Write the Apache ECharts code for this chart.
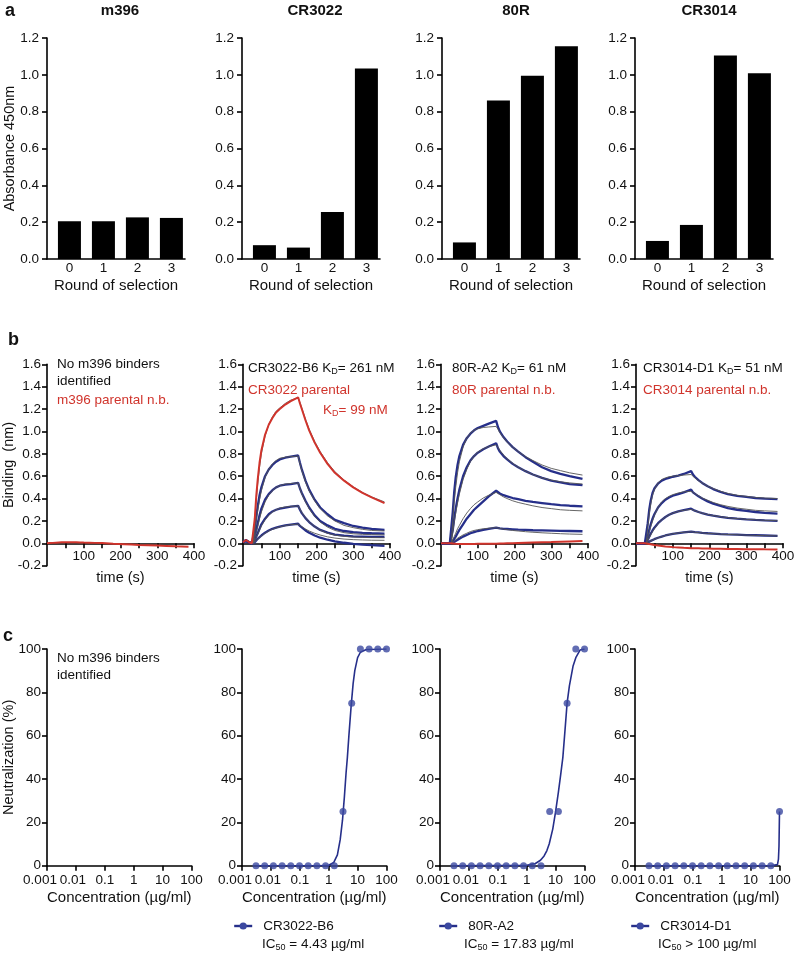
<!DOCTYPE html>
<html><head><meta charset="utf-8">
<script src="https://cdn.jsdelivr.net/npm/echarts@6/dist/echarts.min.js"></script>
<style>html,body{margin:0;padding:0;background:#fff}#c{width:800px;height:957px}</style>
</head><body><div id="c"></div>
<script>
// ================= DATA =================
// Panel a : ELISA
const roundOfSelection = [0, 1, 2, 3];
const elisaTitles = ['m396', 'CR3022', '80R', 'CR3014'];
const elisaM396   = [0.205, 0.205, 0.226, 0.223];
const elisaCR3022 = [0.075, 0.062, 0.255, 1.035];
const elisa80R    = [0.090, 0.860, 0.995, 1.155];
const elisaCR3014 = [0.098, 0.185, 1.105, 1.008];
const absorbanceTicks = ['0.0', '0.2', '0.4', '0.6', '0.8', '1.0', '1.2'];

// Panel b : BLI sensorgrams (time in s, binding in nm)
const bliTime = [0, 8, 16, 24, 28, 32, 36, 40, 45, 50, 60, 70, 80, 90, 100, 115, 130, 150, 155, 160, 170, 180, 195, 210, 230, 250, 275, 300, 325, 350, 385];
const bindingTicks = ['-0.2', '0.0', '0.2', '0.4', '0.6', '0.8', '1.0', '1.2', '1.4', '1.6'];
const timeLabelValues = [100, 200, 300, 400];
const timeTickValues = [50, 100, 150, 200, 250, 300, 350, 400];

const bliM396Parental = [0, 0.002, 0.004, 0.006, 0.007, 0.008, 0.009, 0.01, 0.01, 0.01, 0.01, 0.01, 0.009, 0.008, 0.007, 0.006, 0.004, 0.002, 0.001, 0, -0.002, -0.004, -0.006, -0.008, -0.011, -0.014, -0.017, -0.02, -0.023, -0.026, -0.03];

const bliCR3022Parental    = [0.01, 0.03, 0.012, 0, 0, 0.22, 0.42, 0.57, 0.72, 0.83, 0.97, 1.06, 1.12, 1.17, 1.2, 1.24, 1.27, 1.305, 1.25, 1.2, 1.1, 1.01, 0.9, 0.81, 0.71, 0.63, 0.56, 0.5, 0.45, 0.41, 0.36];
const bliCR3022ParentalFit = [null, null, null, null, 0, 0.2, 0.38, 0.53, 0.68, 0.8, 0.96, 1.06, 1.13, 1.18, 1.21, 1.25, 1.28, 1.3, 1.26, 1.21, 1.11, 1.02, 0.91, 0.82, 0.72, 0.64, 0.565, 0.505, 0.455, 0.415, 0.37];
const bliCR3022B6_1 = [0.01, 0.03, 0.012, 0, 0, 0.12, 0.24, 0.33, 0.43, 0.5, 0.6, 0.66, 0.7, 0.73, 0.75, 0.765, 0.775, 0.785, 0.72, 0.66, 0.56, 0.48, 0.39, 0.32, 0.26, 0.21, 0.18, 0.155, 0.14, 0.13, 0.12];
const bliCR3022B6_2 = [0.01, 0.025, 0.01, 0, 0, 0.06, 0.12, 0.18, 0.25, 0.31, 0.39, 0.44, 0.475, 0.5, 0.515, 0.525, 0.53, 0.54, 0.49, 0.45, 0.38, 0.32, 0.25, 0.2, 0.16, 0.13, 0.11, 0.1, 0.094, 0.09, 0.087];
const bliCR3022B6_3 = [0.01, 0.02, 0.008, 0, 0, 0.03, 0.06, 0.09, 0.13, 0.17, 0.22, 0.26, 0.285, 0.3, 0.31, 0.32, 0.328, 0.335, 0.3, 0.27, 0.225, 0.19, 0.15, 0.12, 0.095, 0.078, 0.068, 0.062, 0.06, 0.058, 0.057];
const bliCR3022B6_4 = [0.01, 0.02, 0.008, 0, 0, 0.01, 0.025, 0.04, 0.055, 0.07, 0.095, 0.115, 0.13, 0.14, 0.15, 0.16, 0.168, 0.175, 0.155, 0.14, 0.115, 0.095, 0.07, 0.05, 0.032, 0.018, 0.005, -0.005, -0.012, -0.017, -0.022];
const bliCR3022B6Fit_1 = [null, null, null, null, 0, 0.1, 0.2, 0.29, 0.39, 0.47, 0.59, 0.66, 0.71, 0.74, 0.76, 0.77, 0.775, 0.78, 0.71, 0.65, 0.55, 0.47, 0.38, 0.31, 0.245, 0.2, 0.16, 0.14, 0.125, 0.115, 0.11];
const bliCR3022B6Fit_2 = [null, null, null, null, 0, 0.05, 0.1, 0.15, 0.22, 0.28, 0.37, 0.43, 0.47, 0.5, 0.515, 0.53, 0.535, 0.54, 0.49, 0.44, 0.37, 0.31, 0.24, 0.19, 0.145, 0.115, 0.095, 0.085, 0.08, 0.078, 0.075];
const bliCR3022B6Fit_3 = [null, null, null, null, 0, 0.025, 0.05, 0.08, 0.12, 0.155, 0.21, 0.25, 0.28, 0.3, 0.315, 0.325, 0.33, 0.335, 0.305, 0.275, 0.23, 0.19, 0.15, 0.118, 0.09, 0.073, 0.062, 0.056, 0.053, 0.051, 0.05];
const bliCR3022B6Fit_4 = [null, null, null, null, 0, 0.012, 0.025, 0.038, 0.052, 0.066, 0.09, 0.11, 0.125, 0.137, 0.147, 0.158, 0.166, 0.172, 0.16, 0.148, 0.128, 0.11, 0.09, 0.074, 0.058, 0.047, 0.038, 0.033, 0.03, 0.028, 0.027];

const bli80RParental = [0, 0, 0, 0, 0, -0.002, -0.003, -0.004, -0.004, -0.005, -0.005, -0.005, -0.005, -0.005, -0.004, -0.004, -0.003, -0.003, -0.002, -0.002, -0.001, 0, 0.001, 0.003, 0.005, 0.007, 0.009, 0.011, 0.014, 0.017, 0.02];
const bli80RA2_1 = [0, 0, 0, 0, 0, 0.28, 0.46, 0.59, 0.7, 0.78, 0.88, 0.94, 0.98, 1.01, 1.03, 1.05, 1.07, 1.095, 1.04, 1.0, 0.95, 0.91, 0.86, 0.82, 0.77, 0.73, 0.68, 0.645, 0.62, 0.6, 0.575];
const bli80RA2_2 = [0, 0, 0, 0, 0, 0.12, 0.22, 0.31, 0.4, 0.48, 0.6, 0.68, 0.74, 0.78, 0.81, 0.84, 0.865, 0.895, 0.85, 0.82, 0.78, 0.75, 0.71, 0.68, 0.645, 0.615, 0.585, 0.56, 0.545, 0.53, 0.52];
const bli80RA2_3 = [0, 0, 0, 0, 0, 0.02, 0.04, 0.06, 0.09, 0.12, 0.17, 0.22, 0.26, 0.3, 0.33, 0.375, 0.42, 0.47, 0.455, 0.445, 0.43, 0.42, 0.405, 0.395, 0.38, 0.37, 0.36, 0.35, 0.342, 0.336, 0.33];
const bli80RA2_4 = [0, 0, 0, 0, 0, 0.005, 0.012, 0.02, 0.03, 0.04, 0.06, 0.075, 0.09, 0.1, 0.11, 0.12, 0.13, 0.14, 0.135, 0.133, 0.13, 0.128, 0.125, 0.122, 0.12, 0.117, 0.115, 0.113, 0.111, 0.11, 0.108];
const bli80RA2Fit_1 = [null, null, null, null, 0, 0.2, 0.37, 0.5, 0.63, 0.73, 0.86, 0.94, 0.985, 1.01, 1.025, 1.035, 1.04, 1.045, 1.02, 0.99, 0.945, 0.905, 0.86, 0.82, 0.775, 0.74, 0.7, 0.67, 0.65, 0.63, 0.61];
const bli80RA2Fit_2 = [null, null, null, null, 0, 0.1, 0.19, 0.27, 0.36, 0.44, 0.57, 0.66, 0.73, 0.78, 0.815, 0.845, 0.865, 0.88, 0.86, 0.83, 0.79, 0.755, 0.715, 0.68, 0.645, 0.615, 0.585, 0.565, 0.55, 0.54, 0.53];
const bli80RA2Fit_3 = [null, null, null, null, 0, 0.03, 0.06, 0.09, 0.13, 0.16, 0.22, 0.27, 0.31, 0.345, 0.37, 0.405, 0.43, 0.455, 0.445, 0.435, 0.415, 0.4, 0.38, 0.365, 0.35, 0.335, 0.32, 0.31, 0.3, 0.295, 0.29];
const bli80RA2Fit_4 = [null, null, null, null, 0, 0.01, 0.02, 0.03, 0.045, 0.055, 0.075, 0.09, 0.105, 0.115, 0.122, 0.13, 0.135, 0.14, 0.137, 0.133, 0.127, 0.122, 0.115, 0.11, 0.104, 0.099, 0.094, 0.09, 0.086, 0.083, 0.08];

const bliCR3014Parental = [0, 0, 0, 0, 0, -0.003, -0.006, -0.009, -0.012, -0.015, -0.02, -0.024, -0.028, -0.031, -0.034, -0.037, -0.04, -0.043, -0.044, -0.044, -0.045, -0.046, -0.047, -0.048, -0.049, -0.05, -0.051, -0.052, -0.053, -0.054, -0.055];
const bliCR3014D1_1 = [0, 0, 0, 0, 0, 0.18, 0.3, 0.38, 0.45, 0.49, 0.535, 0.56, 0.575, 0.585, 0.595, 0.605, 0.62, 0.645, 0.615, 0.595, 0.565, 0.54, 0.51, 0.485, 0.46, 0.44, 0.425, 0.415, 0.405, 0.4, 0.395];
const bliCR3014D1_2 = [0, 0, 0, 0, 0, 0.06, 0.12, 0.17, 0.22, 0.26, 0.32, 0.36, 0.39, 0.41, 0.425, 0.44, 0.455, 0.48, 0.455, 0.44, 0.42, 0.4, 0.375, 0.355, 0.335, 0.315, 0.3, 0.29, 0.28, 0.272, 0.265];
const bliCR3014D1_3 = [0, 0, 0, 0, 0, 0.03, 0.06, 0.085, 0.115, 0.14, 0.18, 0.21, 0.235, 0.255, 0.27, 0.285, 0.297, 0.31, 0.3, 0.292, 0.28, 0.27, 0.257, 0.247, 0.237, 0.228, 0.22, 0.214, 0.209, 0.205, 0.2];
const bliCR3014D1_4 = [0, 0, 0, 0, 0, 0.008, 0.015, 0.022, 0.03, 0.037, 0.05, 0.06, 0.07, 0.078, 0.085, 0.092, 0.098, 0.104, 0.102, 0.1, 0.097, 0.094, 0.09, 0.087, 0.083, 0.08, 0.077, 0.074, 0.072, 0.07, 0.067];
const bliCR3014D1Fit_1 = [null, null, null, null, 0, 0.14, 0.26, 0.35, 0.43, 0.48, 0.54, 0.57, 0.585, 0.595, 0.6, 0.605, 0.61, 0.615, 0.6, 0.585, 0.56, 0.54, 0.51, 0.49, 0.465, 0.445, 0.43, 0.42, 0.41, 0.405, 0.4];
const bliCR3014D1Fit_2 = [null, null, null, null, 0, 0.05, 0.1, 0.15, 0.2, 0.25, 0.32, 0.37, 0.4, 0.42, 0.435, 0.45, 0.46, 0.465, 0.455, 0.445, 0.425, 0.405, 0.385, 0.365, 0.345, 0.33, 0.315, 0.305, 0.295, 0.29, 0.285];
const bliCR3014D1Fit_3 = [null, null, null, null, 0, 0.025, 0.05, 0.075, 0.105, 0.13, 0.175, 0.21, 0.235, 0.255, 0.27, 0.285, 0.295, 0.303, 0.298, 0.292, 0.28, 0.27, 0.258, 0.248, 0.238, 0.229, 0.221, 0.215, 0.21, 0.206, 0.202];
const bliCR3014D1Fit_4 = [null, null, null, null, 0, 0.007, 0.014, 0.021, 0.029, 0.036, 0.049, 0.06, 0.07, 0.078, 0.085, 0.093, 0.099, 0.103, 0.101, 0.099, 0.096, 0.093, 0.089, 0.086, 0.082, 0.079, 0.076, 0.073, 0.071, 0.069, 0.066];

// Panel c : neutralization
const concentrations = [0.00305, 0.0061, 0.0122, 0.0244, 0.0488, 0.0977, 0.195, 0.39, 0.78, 1.5625, 3.125, 6.25, 12.5, 25, 50, 100];
const neutCR3022B6 = [0, 0, 0, 0, 0, 0, 0, 0, 0, 0, 25, 75, 100, 100, 100, 100];
const neut80RA2    = [0, 0, 0, 0, 0, 0, 0, 0, 0, 0, 0, 25, 25, 75, 100, 100];
const neutCR3014D1 = [0, 0, 0, 0, 0, 0, 0, 0, 0, 0, 0, 0, 0, 0, 0, 25];
const fitConcCR3022B6 = [0.003, 0.5, 1, 1.5, 2, 2.5, 3, 3.5, 4, 4.43, 5, 6, 7, 8, 10, 12.5, 20, 100];
const fitNeutCR3022B6 = [0, 0, 0.2, 1.5, 5, 12, 21, 32, 43, 50, 60, 74, 84, 90, 96, 98.5, 99.8, 100];
const fitConc80RA2 = [0.003, 1, 2, 3, 4, 5, 6, 8, 10, 12.5, 15, 17.83, 21, 25, 30, 40, 50, 70, 100];
const fitNeut80RA2 = [0, 0.2, 1, 2.5, 4.5, 7, 10, 17, 25, 34, 42, 50, 62, 75, 83, 92, 96, 99.5, 100];
const fitConcCR3014D1 = [0.003, 50, 85, 92, 96, 100];
const fitNeutCR3014D1 = [0, 0, 0.5, 3, 9, 25];
const concTickLabels = ['0.001', '0.01', '0.1', '1', '10', '100'];
const neutTicks = ['0', '20', '40', '60', '80', '100'];
const neutNames = ['CR3022-B6', '80R-A2', 'CR3014-D1'];
const ic50Texts = [' = 4.43 µg/ml', ' = 17.83 µg/ml', ' > 100 µg/ml'];

// ================= STYLE / LAYOUT =================
const FONT = '"Liberation Sans", Arial, Helvetica, sans-serif';
const INK = '#111111';
const RED = '#d0342c';
const NAVY = '#262f8a';
const DOT = '#3b48a0';
const FITC = '#555555';

const aLefts = [47, 242, 442, 635];
const bLefts = [47, 243, 441, 636];
const cLefts = [47, 242, 440, 635];
const aTitleX = [120, 315, 516, 709];

const lineAx = {show: true, onZero: false, lineStyle: {color: '#000', width: 1.6}};
const tickAx = {show: true, length: 5, inside: false, lineStyle: {color: '#000', width: 1.6}};
const lbl = {color: INK, fontSize: 13.5, fontFamily: FONT};
const nameStyle = {color: INK, fontSize: 14.5, fontFamily: FONT};

const grids = [], xAxes = [], yAxes = [], series = [];

// ---- panel a ----
[elisaM396, elisaCR3022, elisa80R, elisaCR3014].forEach((vals, i) => {
  const g = grids.length;
  grids.push({left: aLefts[i], top: 38, width: 138, height: 221, containLabel: false, outerBoundsMode: 'none'});
  xAxes.push({type: 'value', gridIndex: g, min: -0.66, max: 3.4,
    axisLine: lineAx, axisTick: {show: false}, splitLine: {show: false},
    axisLabel: Object.assign({}, lbl, {customValues: roundOfSelection, margin: 2, formatter: v => String(v)}),
    name: 'Round of selection', nameLocation: 'middle', nameGap: 19, nameTextStyle: Object.assign({}, nameStyle, {fontSize: 15}), nameMoveOverlap: false});
  yAxes.push({type: 'value', gridIndex: g, min: 0, max: 1.2, interval: 0.2,
    axisLine: lineAx, axisTick: tickAx, splitLine: {show: false},
    axisLabel: Object.assign({}, lbl, {margin: 8, formatter: v => absorbanceTicks[Math.round(v / 0.2)]}),
    name: i === 0 ? 'Absorbance 450nm' : '', nameLocation: 'middle', nameGap: 30, nameTextStyle: nameStyle, nameMoveOverlap: false});
  series.push({type: 'bar', xAxisIndex: g, yAxisIndex: g, barWidth: 23, silent: true,
    itemStyle: {color: '#000'}, data: roundOfSelection.map((r, k) => [r, vals[k]])});
});

// ---- panel b ----
const bliPanels = [
  {parental: bliM396Parental, parentalFit: null, measured: [], fits: []},
  {parental: bliCR3022Parental, parentalFit: bliCR3022ParentalFit,
   measured: [bliCR3022B6_1, bliCR3022B6_2, bliCR3022B6_3, bliCR3022B6_4],
   fits: [bliCR3022B6Fit_1, bliCR3022B6Fit_2, bliCR3022B6Fit_3, bliCR3022B6Fit_4]},
  {parental: bli80RParental, parentalFit: null,
   measured: [bli80RA2_1, bli80RA2_2, bli80RA2_3, bli80RA2_4],
   fits: [bli80RA2Fit_1, bli80RA2Fit_2, bli80RA2Fit_3, bli80RA2Fit_4]},
  {parental: bliCR3014Parental, parentalFit: null,
   measured: [bliCR3014D1_1, bliCR3014D1_2, bliCR3014D1_3, bliCR3014D1_4],
   fits: [bliCR3014D1Fit_1, bliCR3014D1Fit_2, bliCR3014D1Fit_3, bliCR3014D1Fit_4]}
];
const toPairs = arr => bliTime.map((t, k) => [t, arr[k]]).filter(p => p[1] !== null);
function bLine(g, arr, color, width, z) {
  return {type: 'line', xAxisIndex: g, yAxisIndex: g, data: toPairs(arr), showSymbol: false, symbol: 'none',
    silent: true, z: z, lineStyle: {color: color, width: width}, emphasis: {disabled: true}};
}
bliPanels.forEach((p, i) => {
  const g = grids.length;
  grids.push({left: bLefts[i], top: 364.3, width: 147, height: 201.4, containLabel: false, outerBoundsMode: 'none'});
  xAxes.push({type: 'value', gridIndex: g, min: 0, max: 400,
    axisLine: {show: true, onZero: true, lineStyle: {color: '#000', width: 1.6}},
    axisTick: Object.assign({}, tickAx, {customValues: timeTickValues}), splitLine: {show: false},
    axisLabel: Object.assign({}, lbl, {customValues: timeLabelValues, margin: -16, formatter: v => String(v)}),
    name: 'time (s)', nameLocation: 'middle', nameGap: 5, nameTextStyle: nameStyle, nameMoveOverlap: false});
  yAxes.push({type: 'value', gridIndex: g, min: -0.2, max: 1.6, interval: 0.2,
    axisLine: lineAx, axisTick: tickAx, splitLine: {show: false},
    axisLabel: Object.assign({}, lbl, {margin: 6, formatter: v => bindingTicks[Math.round((v + 0.2) / 0.2)]}),
    name: i === 0 ? 'Binding  (nm)' : '', nameLocation: 'middle', nameGap: 30.5, nameTextStyle: nameStyle, nameMoveOverlap: false});
  p.measured.forEach(arr => series.push(bLine(g, arr, NAVY, 2.3, 2)));
  p.fits.forEach(arr => series.push(bLine(g, arr, FITC, 0.9, 3)));
  if (p.parentalFit) series.push(bLine(g, p.parentalFit, FITC, 0.9, 4));
  series.push(bLine(g, p.parental, RED, 2, 5));
});

// ---- panel c ----
const neutPoints = [null, neutCR3022B6, neut80RA2, neutCR3014D1];
const neutFitX = [null, fitConcCR3022B6, fitConc80RA2, fitConcCR3014D1];
const neutFitY = [null, fitNeutCR3022B6, fitNeut80RA2, fitNeutCR3014D1];
const tokenStyle = {fontSize: 13.5, fontFamily: FONT, color: INK};
for (let i = 0; i < 4; i++) {
  const g = grids.length;
  grids.push({left: cLefts[i], top: 649, width: 144.5, height: 216.7, containLabel: false, outerBoundsMode: 'none'});
  xAxes.push({type: 'log', logBase: 10, gridIndex: g, min: 0.001, max: 100,
    axisLine: lineAx, axisTick: tickAx, splitLine: {show: false}, minorTick: {show: false},
    axisLabel: Object.assign({}, lbl, {margin: 8,
      formatter: v => { const k = Math.round(Math.log10(v)) + 3; const s = concTickLabels[k];
        return k === 0 ? '{w|' + s + '}' : (k === 1 ? '{v|' + s + '}' : s); },
      rich: {w: Object.assign({padding: [0, 14, 0, 0]}, tokenStyle), v: Object.assign({padding: [0, 6, 0, 0]}, tokenStyle)}}),
    name: 'Concentration (µg/ml)', nameLocation: 'middle', nameGap: 25, nameTextStyle: Object.assign({}, nameStyle, {fontSize: 15}), nameMoveOverlap: false});
  yAxes.push({type: 'value', gridIndex: g, min: 0, max: 100, interval: 20,
    axisLine: lineAx, axisTick: tickAx, splitLine: {show: false},
    axisLabel: Object.assign({}, lbl, {margin: 6, formatter: v => neutTicks[Math.round(v / 20)]}),
    name: i === 0 ? 'Neutralization (%)' : '', nameLocation: 'middle', nameGap: 30.5, nameTextStyle: nameStyle, nameMoveOverlap: false});
  if (neutPoints[i]) {
    series.push({type: 'line', name: neutNames[i - 1], xAxisIndex: g, yAxisIndex: g, showSymbol: false,
      symbol: 'circle', symbolSize: 7, silent: true, z: 3, itemStyle: {color: DOT},
      lineStyle: {color: NAVY, width: 1.6}, emphasis: {disabled: true},
      data: neutFitX[i].map((c, k) => [c, neutFitY[i][k]])});
    series.push({type: 'scatter', name: neutNames[i - 1] + ' data', xAxisIndex: g, yAxisIndex: g,
      symbol: 'circle', symbolSize: 7, silent: true, z: 4, itemStyle: {color: DOT},
      data: concentrations.map((c, k) => [c, neutPoints[i][k]])});
  }
}

// ---- free text ----
function txt(x, y, text, extra) {
  const style = Object.assign({text: text, fill: INK, fontSize: 13.5, fontFamily: FONT,
    align: 'left', textAlign: 'left', verticalAlign: 'middle', textVerticalAlign: 'middle'}, extra || {});
  return {type: 'text', x: x, y: y, silent: true, z: 100, style: style};
}
function sub(x, y, pre, s, post, color) {
  const c = color || INK;
  return txt(x, y, '{n|' + pre + '}{s|' + s + '}{n|' + post + '}', {fill: c, rich: {
    n: {fontSize: 13.5, fontFamily: FONT, fill: c, color: c},
    s: {fontSize: 9, fontFamily: FONT, fill: c, color: c, padding: [8, 0, 0, 0]}}});
}
const texts = [
  txt(5, 11, 'a', {fontSize: 18, fontWeight: 'bold'}),
  txt(8, 340, 'b', {fontSize: 18, fontWeight: 'bold'}),
  txt(3, 636, 'c', {fontSize: 18, fontWeight: 'bold'}),
  txt(57, 364, 'No m396 binders'), txt(57, 381.5, 'identified'),
  txt(57, 400, 'm396 parental n.b.', {fill: RED}),
  sub(248, 368, 'CR3022-B6 K', 'D', '= 261 nM'),
  txt(248, 390, 'CR3022 parental', {fill: RED}),
  sub(323, 410, 'K', 'D', '= 99 nM', RED),
  sub(452, 368, '80R-A2 K', 'D', '= 61 nM'),
  txt(452, 390, '80R parental n.b.', {fill: RED}),
  sub(643, 368, 'CR3014-D1 K', 'D', '= 51 nM'),
  txt(643, 390, 'CR3014 parental n.b.', {fill: RED}),
  txt(57, 658, 'No m396 binders'), txt(57, 675.5, 'identified')
];
elisaTitles.forEach((t, i) => texts.push(txt(aTitleX[i], 11, t, {fontSize: 15, fontWeight: 'bold', align: 'center', textAlign: 'center'})));
const legendLefts = [233, 438, 630];
const icTextX = [262, 464, 658];
neutNames.forEach((n, i) => texts.push(sub(icTextX[i], 944, 'IC', '50', ic50Texts[i])));

const legends = neutNames.map((n, i) => ({
  left: legendLefts[i], top: 919, padding: 0, itemWidth: 18, itemHeight: 9, selectedMode: false,
  data: [n], lineStyle: {width: 2.4}, textStyle: {fontSize: 13.5, fontFamily: FONT, color: INK, padding: [0, 0, 0, 6]}
}));

const chart = echarts.init(document.getElementById('c'), null, {renderer: 'canvas', width: 800, height: 957});
chart.setOption({
  animation: false,
  backgroundColor: '#ffffff',
  textStyle: {fontFamily: FONT},
  grid: grids, xAxis: xAxes, yAxis: yAxes, series: series,
  legend: legends,
  graphic: {elements: texts}
});
</script></body></html>
